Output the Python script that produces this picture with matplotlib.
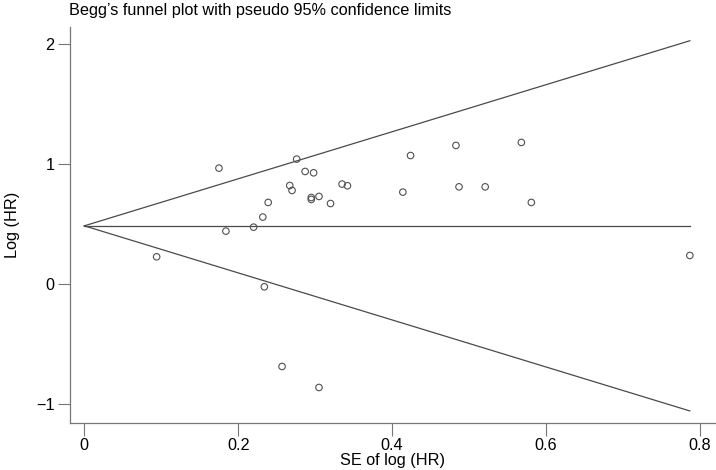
import matplotlib
matplotlib.use('Agg')
import matplotlib.pyplot as plt
import numpy as np

plt.rcParams['font.family'] = ['Liberation Sans', 'DejaVu Sans']

# study standard errors and log hazard ratios
se_log_hr = [0.175, 0.276, 0.287, 0.298, 0.267, 0.270, 0.335, 0.342, 0.239,
             0.295, 0.295, 0.305, 0.320, 0.232, 0.220, 0.184, 0.094, 0.234,
             0.424, 0.483, 0.568, 0.414, 0.487, 0.521, 0.581, 0.787,
             0.257, 0.305]
log_hr = [0.964, 1.039, 0.936, 0.925, 0.819, 0.778, 0.831, 0.817, 0.678,
          0.719, 0.703, 0.728, 0.669, 0.556, 0.472, 0.439, 0.225, -0.025,
          1.069, 1.153, 1.178, 0.764, 0.808, 0.808, 0.678, 0.236,
          -0.689, -0.864]

pooled = 0.483
x_ticks = [0, 0.2, 0.4, 0.6, 0.8]
x_tick_labels = ['0', '0.2', '0.4', '0.6', '0.8']
y_ticks = [-1, 0, 1, 2]
y_tick_labels = ['\u22121', '0', '1', '2']

fig = plt.figure(figsize=(7.16, 4.7), dpi=100)
ax = fig.add_axes([70 / 716, 47 / 470, 646 / 716, 396 / 470])

se_max = max(se_log_hr)
se_line = np.array([0, se_max])
line_col = '#4a4a4a'
ax.plot(se_line, pooled + 1.96 * se_line, color=line_col, lw=0.9)
ax.plot(se_line, pooled - 1.96 * se_line, color=line_col, lw=0.9)
ax.plot(se_line, [pooled, pooled], color=line_col, lw=0.9)

ax.scatter(se_log_hr, log_hr, s=22, facecolors='none', edgecolors='#505050',
           linewidths=0.8, zorder=3)

ax.set_xlim(-0.0186, 0.821)
ax.set_ylim(-1.16, 2.14)
ax.set_xticks(x_ticks)
ax.set_xticklabels(x_tick_labels)
ax.set_yticks(y_ticks)
ax.set_yticklabels(y_tick_labels)

for side in ['top', 'right']:
    ax.spines[side].set_visible(False)
for side in ['left', 'bottom']:
    ax.spines[side].set_color('#777777')
    ax.spines[side].set_linewidth(0.9)
ax.tick_params(direction='out', length=9, width=0.8, color='#777777',
               labelsize=11.7, pad=2)

ax.set_xlabel('SE of log (HR)', fontsize=11.7, labelpad=0)
ax.set_ylabel('Log (HR)', fontsize=11.7, labelpad=12)

fig.text(69 / 716, 1 - 10 / 470, 'Begg\u2019s funnel plot with pseudo 95% confidence limits',
         fontsize=11.7, ha='left', va='center')

fig.savefig('out.png', dpi=100)
